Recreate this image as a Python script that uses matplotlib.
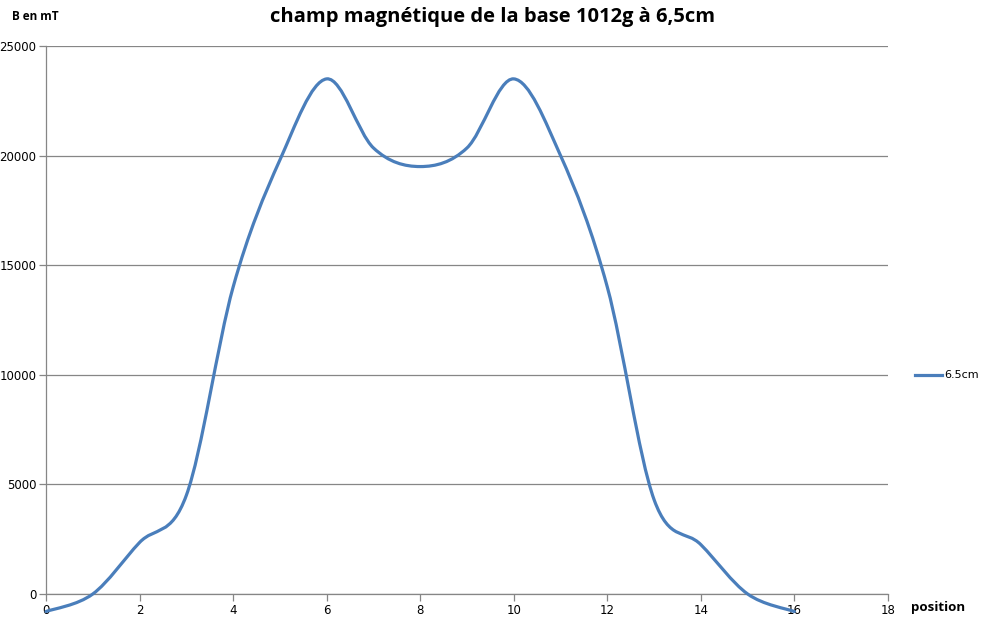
import numpy as np
import matplotlib.pyplot as plt
from matplotlib.path import Path
from matplotlib.patches import PathPatch
from matplotlib.lines import Line2D

# data
position = [0, 1, 2, 3, 4, 5, 6, 7, 8, 9, 10, 11, 12, 13, 14, 15, 16]
champ = [-800, 0, 2350, 4500, 14000, 19800, 23500, 20350, 19500,
         20350, 23500, 20000, 14000, 4300, 2250, 0, -800]
serie = '6.5cm'

x_ticks = [0, 2, 4, 6, 8, 10, 12, 14, 16, 18]
y_ticks = [0, 5000, 10000, 15000, 20000, 25000]

blue = '#4a7ebb'
grey = '#868686'

fig = plt.figure(figsize=(9.84, 6.22), dpi=100)
ax = fig.add_axes([46 / 984, 28 / 622, 842 / 984, 548 / 622])

# smoothed line like Excel (bezier through the points)
x = np.array(position, dtype=float)
y = np.array(champ, dtype=float)
px = np.concatenate([[x[0]], x, [x[-1]]])
py = np.concatenate([[y[0]], y, [y[-1]]])
verts = [(x[0], y[0])]
codes = [Path.MOVETO]
for i in range(1, len(px) - 2):
    c1 = (px[i] + (px[i + 1] - px[i - 1]) / 6, py[i] + (py[i + 1] - py[i - 1]) / 6)
    c2 = (px[i + 1] - (px[i + 2] - px[i]) / 6, py[i + 1] - (py[i + 2] - py[i]) / 6)
    verts += [c1, c2, (px[i + 1], py[i + 1])]
    codes += [Path.CURVE4] * 3
ax.add_patch(PathPatch(Path(verts, codes), facecolor='none', edgecolor=blue,
                       lw=2.3, capstyle='round', joinstyle='round', zorder=3,
                       clip_on=False))

ax.set_xlim(0, 18)
ax.set_ylim(0, 25000)
ax.set_xticks(x_ticks)
ax.set_yticks(y_ticks)
ax.grid(axis='y', color=grey, lw=0.9)
ax.set_axisbelow(True)

for s in ['top', 'right']:
    ax.spines[s].set_visible(False)
for s in ['left', 'bottom']:
    ax.spines[s].set_color(grey)
    ax.spines[s].set_linewidth(0.9)
ax.tick_params(direction='out', length=5, width=0.9, color=grey,
               labelsize=8.5, labelcolor='black', pad=2)

fig.text(493 / 984, 1 - 17 / 622, 'champ magnétique de la base 1012g à 6,5cm',
         ha='center', va='center', fontsize=14.5, fontweight='bold',
         family='Open Sans')
fig.text(12 / 984, 1 - 17 / 622, 'B en mT', ha='left', va='center',
         fontsize=8.5, fontweight='bold', family='Open Sans')
fig.text(911 / 984, 1 - 607 / 622, 'position', ha='left', va='center',
         fontsize=9.5, fontweight='bold', family='Open Sans')

# legend
fig.add_artist(Line2D([915 / 984, 942 / 984], [1 - 375 / 622, 1 - 375 / 622],
                      color=blue, lw=2.3, transform=fig.transFigure))
fig.text(944 / 984, 1 - 375 / 622, serie, ha='left', va='center', fontsize=8)

fig.savefig('out.png', dpi=100)
